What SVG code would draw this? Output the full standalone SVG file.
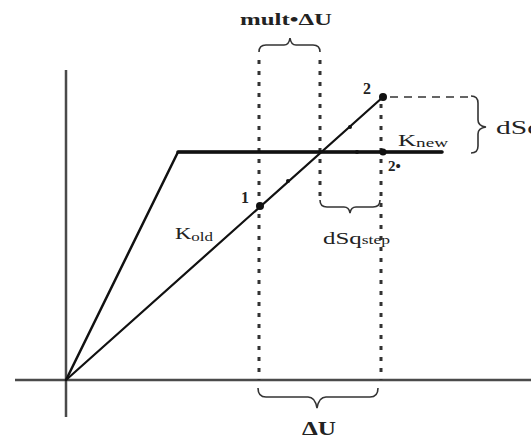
<svg xmlns="http://www.w3.org/2000/svg" width="531" height="443" viewBox="0 0 531 443">
<style>
.axis{stroke:#4a4a4a;stroke-width:2.5;fill:none}
.curve{stroke:#111;fill:none;stroke-linecap:round;stroke-linejoin:round}
.dot{stroke:#333;stroke-width:3;stroke-dasharray:4 7;fill:none}
.dash{stroke:#333;stroke-width:1.6;stroke-dasharray:8 6;fill:none}
.brace{stroke:#333;stroke-width:1.6;fill:none}
.t{font-family:"Liberation Serif",serif;fill:#222}
.b{font-weight:bold}
</style>
<rect width="531" height="443" fill="#fff"/>
<g id="axes">
<line class="axis" x1="66" y1="70" x2="66" y2="417"/>
<line class="axis" x1="15" y1="380" x2="531" y2="380"/>
</g>
<g id="connectors">
<line class="dot" x1="259" y1="60" x2="259" y2="380"/>
<line class="dot" x1="320" y1="60" x2="320" y2="202"/>
<line class="dot" x1="381" y1="104" x2="381" y2="380"/>
<line class="dash" x1="390" y1="97" x2="470" y2="97"/>
</g>
<g id="elastic-plastic">
<polyline class="curve" points="66,380 178,152 442,152" stroke-width="2.5"/>
<line class="curve" x1="178" y1="152" x2="442" y2="152" stroke-width="3.5"/>
</g>
<g id="kold-line">
<line class="curve" x1="66" y1="380" x2="383" y2="97" stroke-width="2.2"/>
<circle cx="288" cy="181" r="2" fill="#111"/>
<circle cx="350" cy="127" r="2" fill="#111"/>
<circle cx="357" cy="152" r="2" fill="#111"/>
</g>
<g id="point1">
<circle cx="260" cy="206" r="4" fill="#111"/>
<text class="t b" x="241" y="203" font-size="16">1</text>
</g>
<g id="point2">
<circle cx="383" cy="97" r="4" fill="#111"/>
<text class="t b" x="363" y="94" font-size="16">2</text>
</g>
<g id="point2star">
<circle cx="383" cy="152" r="3.5" fill="#111"/>
<text class="t b" x="388" y="171" font-size="15">2•</text>
</g>
<g id="label-kold">
<text class="t" x="175" y="239" font-size="16" textLength="38" lengthAdjust="spacingAndGlyphs">K<tspan font-size="12" dy="2">old</tspan></text>
</g>
<g id="label-knew">
<text class="t" x="398" y="146" font-size="17" textLength="50" lengthAdjust="spacingAndGlyphs">K<tspan font-size="13" dy="1">new</tspan></text>
</g>
<g id="brace-mult">
<path class="brace" d="M259,52 Q259,45 266,45 L284,45 Q289,45 290,38 Q291,45 296,45 L313,45 Q320,45 320,52"/>
<text class="t b" x="240" y="25" font-size="17" textLength="92" lengthAdjust="spacingAndGlyphs">mult•ΔU</text>
</g>
<g id="brace-step">
<path class="brace" d="M320,200 Q320,207 327,207 L344,207 Q349,207 350,213 Q351,207 356,207 L373,207 Q380,207 380,200"/>
<text class="t" x="323" y="244" font-size="17" textLength="67" lengthAdjust="spacingAndGlyphs">dSq<tspan font-size="12">step</tspan></text>
</g>
<g id="brace-dsq">
<path class="brace" d="M471,96 Q478,96 478,103 L478,120 Q478,126 486,127 Q478,128 478,134 L478,146 Q478,153 471,153"/>
<text class="t" x="496" y="134" font-size="19" textLength="46" lengthAdjust="spacingAndGlyphs">dSq</text>
</g>
<g id="brace-du">
<path class="brace" d="M258,388 Q258,397 266,397 L308,397 Q315,397 317,408 Q319,397 326,397 L370,397 Q378,397 378,388"/>
<text class="t b" x="302" y="435" font-size="18" textLength="34" lengthAdjust="spacingAndGlyphs">ΔU</text>
</g>
</svg>
